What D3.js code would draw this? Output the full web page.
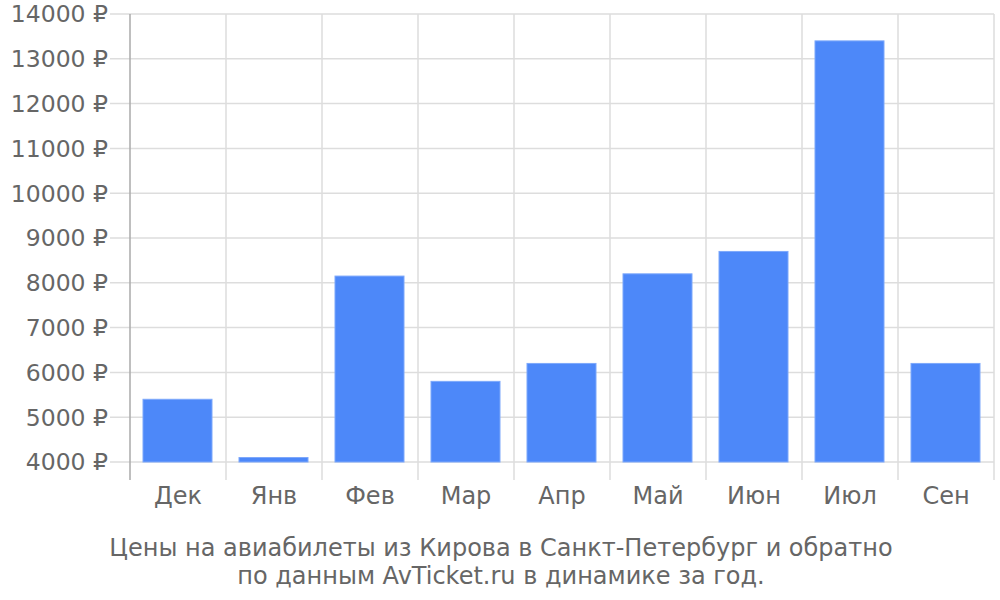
<!DOCTYPE html>
<html><head><meta charset="utf-8">
<script src="https://cdn.jsdelivr.net/npm/d3@7"></script>
<style>body{margin:0;background:#fff}svg{display:block;font-family:"DejaVu Sans",sans-serif}</style>
</head><body><svg id="c" width="1000" height="600"></svg>
<script>
const categories = ["Дек","Янв","Фев","Мар","Апр","Май","Июн","Июл","Сен"];
const prices = [5400,4100,8150,5800,6200,8200,8700,13400,6200];
const yTicks = [4000,5000,6000,7000,8000,9000,10000,11000,12000,13000,14000];
const titleLines = ["Цены на авиабилеты из Кирова в Санкт-Петербург и обратно","по данным AvTicket.ru в динамике за год."];

const svg = d3.select("#c");
const pLeft = 130, pRight = 994, pTop = 14, pBase = 462, pBottom = 480;
const xb = d3.scaleBand().domain(categories).range([pLeft, pRight]);
const y = d3.scaleLinear().domain([4000, 14000]).range([pBase, pTop]);

// horizontal grid
svg.append("g").selectAll("line").data(yTicks).join("line")
  .attr("x1", 110).attr("x2", pRight).attr("y1", d => y(d)).attr("y2", d => y(d))
  .attr("stroke", "#dddddd").attr("stroke-width", 1.5);
// vertical grid
const vx = categories.map(c => xb(c)).concat([pRight]);
svg.append("g").selectAll("line").data(vx.slice(1)).join("line")
  .attr("x1", d => d).attr("x2", d => d).attr("y1", pTop).attr("y2", pBottom)
  .attr("stroke", "#dddddd").attr("stroke-width", 1.5);
// axis line
svg.append("line").attr("x1", pLeft).attr("x2", pLeft).attr("y1", pTop).attr("y2", pBottom)
  .attr("stroke", "#aaaaaa").attr("stroke-width", 1.5);

// bars
svg.append("g").selectAll("rect").data(prices).join("rect")
  .attr("x", (d, i) => xb(categories[i]) + 13)
  .attr("width", 69)
  .attr("y", d => y(d))
  .attr("height", d => pBase - y(d))
  .attr("fill", "#4d88f9").attr("stroke", "#7da8fb").attr("stroke-width", 1);

// y labels
svg.append("g").selectAll("text").data(yTicks).join("text")
  .attr("x", 108).attr("y", d => y(d)).attr("dy", "0.36em")
  .attr("text-anchor", "end").attr("fill", "#666666").attr("font-size", 23.5)
  .text(d => d + " ₽");
// x labels
svg.append("g").selectAll("text").data(categories).join("text")
  .attr("x", d => xb(d) + xb.bandwidth() / 2).attr("y", 504)
  .attr("text-anchor", "middle").attr("fill", "#666666").attr("font-size", 24)
  .text(d => d);
// title
svg.append("g").selectAll("text").data(titleLines).join("text")
  .attr("x", 501).attr("y", (d, i) => 556 + i * 28)
  .attr("text-anchor", "middle").attr("fill", "#666666").attr("font-size", 24)
  .text(d => d);
</script></body></html>
